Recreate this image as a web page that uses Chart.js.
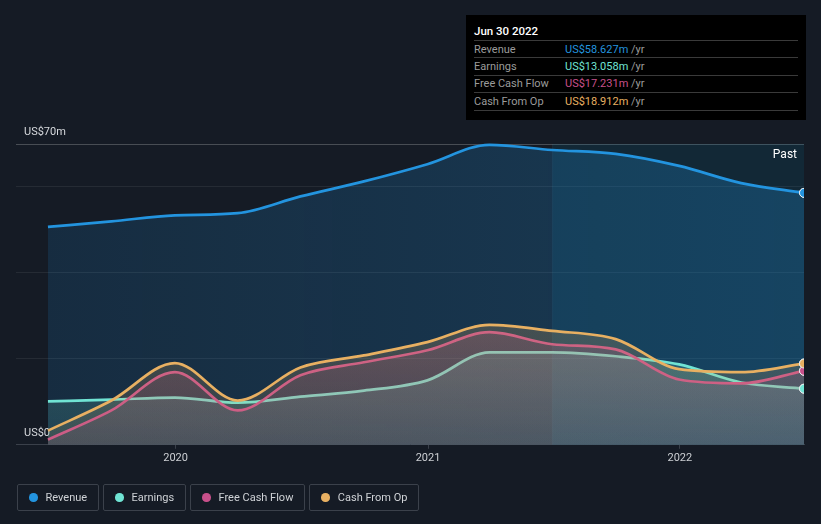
<!DOCTYPE html>
<html>
<head>
<meta charset="utf-8">
<script src="https://cdn.jsdelivr.net/npm/chart.js@4.4.1/dist/chart.umd.min.js"></script>
<style>
  html, body { margin:0; padding:0; background:#151b25; }
  #wrap { position:relative; width:821px; height:524px; overflow:hidden; font-family: Roboto, "Noto Sans", sans-serif; }
  canvas { position:absolute; left:0; top:0; }
  #tip { position:absolute; left:466px; top:15px; width:340px; height:105px; background:#000; box-sizing:border-box; padding:8px 8px 0 8px; }
  #tip .title { color:#fff; font-size:11.5px; font-weight:500; height:18px; line-height:16px; border-bottom:1px solid #3a3a3a; box-sizing:border-box; }
  #tip .row { height:17.4px; line-height:16px; font-size:11px; border-bottom:1px solid #3a3a3a; display:flex; box-sizing:border-box; padding-top:0.5px; }
  #tip .lab { width:91px; color:#9b9b9b; }
  #tip .unit { color:#9b9b9b; }
  #legend { position:absolute; left:17px; top:484px; display:flex; gap:4.4px; }
  .li { height:27px; border:1px solid #3b414b; border-radius:2px; display:flex; align-items:center; padding:0 10.5px 0 11px; color:#cfd2d6; font-size:11px; box-sizing:border-box; line-height:25px; }
  .dot { width:8.5px; height:8.5px; border-radius:50%; margin-right:8px; }
</style>
</head>
<body>
<div id="wrap">
  <canvas id="c" width="821" height="524"></canvas>
  <div id="tip"></div>
  <div id="legend"></div>
</div>
<script>
// ---- data ----
const dates = ['2019-06-30','2019-09-30','2019-12-31','2020-03-31','2020-06-30','2020-09-30','2020-12-31','2021-03-31','2021-06-30','2021-09-30','2021-12-31','2022-03-31','2022-06-30'];
const revenue  = [50.7, 52.0, 53.4, 53.9, 57.8, 61.3, 65.3, 69.8, 68.6, 67.7, 64.9, 60.9, 58.627];
const earnings = [10.1, 10.5, 11.0, 9.8, 11.2, 12.6, 15.0, 21.5, 21.5, 20.6, 18.7, 14.5, 13.058];
const freeCashFlow = [1.2, 8.0, 16.9, 8.0, 16.2, 19.2, 22.0, 26.2, 23.4, 22.2, 15.2, 14.3, 17.231];
const cashFromOp   = [3.3, 10.3, 19.0, 10.3, 18.0, 20.8, 23.9, 27.9, 26.5, 24.6, 17.6, 16.9, 18.912];
const seriesNames  = ['Revenue', 'Earnings', 'Free Cash Flow', 'Cash From Op'];
const seriesColors = ['#2394df', '#70e4d4', '#c8508b', '#e8b062'];
const yTickValues  = [0, 20, 40, 60, 70];
const yTickLabels  = {0: 'US$0', 70: 'US$70m'};
const xTickYears   = [2020, 2021, 2022];
const pastStart    = '2021-06-30';
const tipTitle     = 'Jun 30 2022';

const DAY = 86400000;
const xs = dates.map(d => Date.parse(d));
const allSeries = [revenue, earnings, freeCashFlow, cashFromOp];

function rgba(hex, a) {
  const n = parseInt(hex.slice(1), 16);
  return `rgba(${(n>>16)&255},${(n>>8)&255},${n&255},${a})`;
}

function fillFor(i) {
  return (ctx) => {
    const ca = ctx.chart.chartArea;
    if (!ca) return rgba(seriesColors[i], 0.2);
    const c = seriesColors[i];
    if (i === 0) {
      const g = ctx.chart.ctx.createLinearGradient(ca.left + 32, 0, ca.right, 0);
      g.addColorStop(0, rgba(c, 0.15));
      g.addColorStop(1, rgba(c, 0.26));
      return g;
    }
    const g = ctx.chart.ctx.createLinearGradient(0, ca.top + 180, 0, ca.bottom);
    g.addColorStop(0, rgba(c, 0.22));
    g.addColorStop(1, rgba(c, 0.12));
    return g;
  };
}

const datasets = allSeries.map((vals, i) => ({
  label: seriesNames[i],
  data: vals.map((v, k) => ({x: xs[k], y: v})),
  borderColor: seriesColors[i],
  backgroundColor: fillFor(i),
  borderWidth: 2.7,
  fill: 'origin',
  cubicInterpolationMode: 'monotone',
  pointRadius: (ctx) => ctx.dataIndex === vals.length - 1 ? 4.5 : 0,
  pointBackgroundColor: seriesColors[i],
  pointBorderColor: '#e8eef2',
  pointBorderWidth: 1,
  pointHoverRadius: 0,
  order: 4 - i,
  clip: {left: 0, top: 4, right: 0, bottom: 0}
}));

const bgPlugin = {
  id: 'bg',
  beforeDatasetsDraw(chart) {
    const {ctx, chartArea: ca, scales} = chart;
    const xp = scales.x.getPixelForValue(Date.parse(pastStart));
    ctx.save();
    ctx.fillStyle = 'rgba(0,130,170,0.13)';
    ctx.fillRect(xp, ca.top, ca.right - xp, ca.bottom - ca.top);
    ctx.fillStyle = 'rgba(255,255,255,0.035)';
    ctx.fillRect(xp, ca.top, 1, ca.bottom - ca.top);
    ctx.restore();
  },
  afterDatasetsDraw(chart) {
    const {ctx, chartArea: ca} = chart;
    // redraw the end markers on top of all fills, clipped to the plot area
    ctx.save();
    ctx.beginPath();
    ctx.rect(ca.left, ca.top - 4, ca.right - ca.left, ca.bottom - ca.top + 4);
    ctx.clip();
    chart.getSortedVisibleDatasetMetas().slice().reverse().forEach(meta => {
      const pts = meta.data;
      const last = pts[pts.length - 1];
      if (last) last.draw(ctx, ca);
    });
    ctx.restore();
    ctx.save();
    ctx.fillStyle = '#ffffff';
    ctx.font = '12px Roboto, "Noto Sans", sans-serif';
    ctx.textAlign = 'right';
    ctx.textBaseline = 'middle';
    ctx.fillText('Past', ca.right - 7, ca.top + 11);
    ctx.restore();
  }
};

new Chart(document.getElementById('c'), {
  type: 'line',
  data: { datasets },
  options: {
    responsive: false,
    animation: false,
    events: [],
    layout: { padding: { top: 144, left: 16, right: 17, bottom: 56 } },
    plugins: { legend: { display: false }, tooltip: { enabled: false } },
    scales: {
      x: {
        type: 'linear',
        min: xs[0] - 46.3 * DAY,
        max: xs[xs.length - 1],
        afterBuildTicks: (s) => { s.ticks = xTickYears.map(y => ({ value: Date.parse(y + '-01-01') })); },
        ticks: {
          callback: (v) => String(new Date(v).getUTCFullYear()),
          color: '#cdd0d4',
          font: { family: 'Roboto', size: 11 },
          padding: 3,
          maxRotation: 0
        },
        grid: { drawOnChartArea: false, drawTicks: true, tickLength: 4, color: '#3a404a' },
        border: { display: true, color: '#3a404a', width: 1 }
      },
      y: {
        min: 0,
        max: 70,
        afterFit: (s) => { s.width = 0; },
        afterBuildTicks: (s) => { s.ticks = yTickValues.map(v => ({ value: v })); },
        ticks: {
          mirror: true,
          padding: 8,
          labelOffset: -12,
          callback: (v) => yTickLabels[v] || '',
          color: '#d6d9dd',
          font: { family: 'Roboto', size: 11 }
        },
        grid: {
          drawTicks: false,
          tickLength: 0,
          color: (c) => c.tick && c.tick.value === 70 ? 'rgba(255,255,255,0.22)' : (c.tick && c.tick.value === 0 ? 'rgba(0,0,0,0)' : 'rgba(255,255,255,0.07)')
        },
        border: { display: false }
      }
    }
  },
  plugins: [bgPlugin]
});

// tooltip-like info box
const tip = document.getElementById('tip');
let html = `<div class="title">${tipTitle}</div>`;
allSeries.forEach((vals, i) => {
  const v = vals[vals.length - 1].toFixed(3);
  html += `<div class="row"><span class="lab">${seriesNames[i]}</span><span style="color:${seriesColors[i]}">US$${v}m</span><span class="unit">&nbsp;/yr</span></div>`;
});
tip.innerHTML = html;

// legend
const leg = document.getElementById('legend');
seriesNames.forEach((n, i) => {
  const d = document.createElement('div');
  d.className = 'li';
  d.innerHTML = `<span class="dot" style="background:${seriesColors[i]}"></span>${n}`;
  leg.appendChild(d);
});
</script>
</body>
</html>
